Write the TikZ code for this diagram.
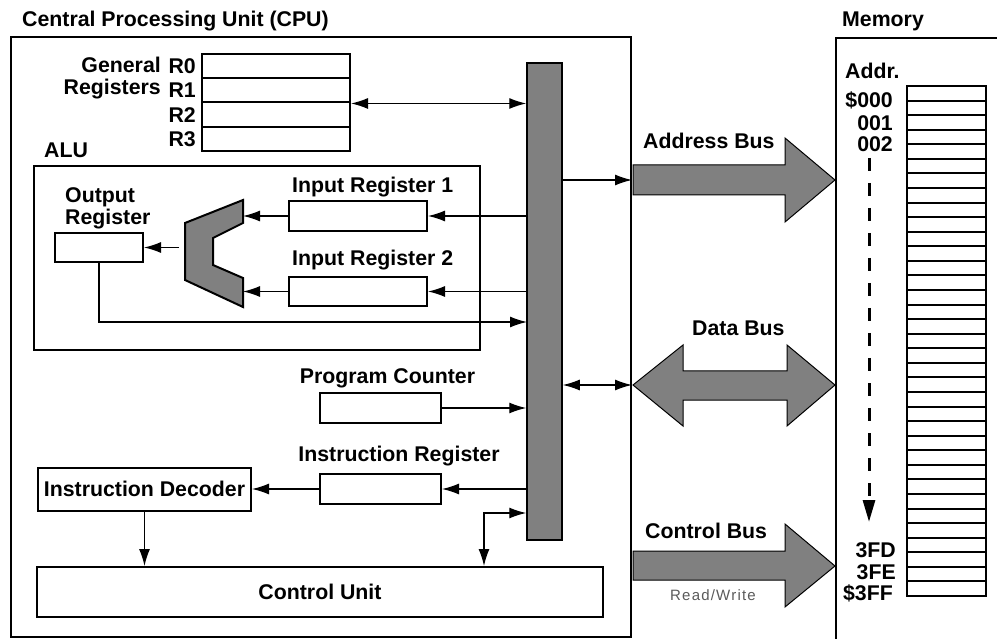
\documentclass[tikz,border=0pt]{standalone}
\usepackage{fontspec}
\setmainfont{Liberation Sans}
\newfontfamily\rwfont[LetterSpace=8]{Liberation Sans}
\usetikzlibrary{arrows.meta}
\definecolor{busgray}{RGB}{128,128,128}
\definecolor{rwgray}{RGB}{90,90,90}

\begin{document}
\begin{tikzpicture}[x=1pt, y=-1pt,
  regbox/.style={draw, line width=2pt, inner sep=0pt},
  cell/.style={draw, line width=2pt, minimum width=79pt, minimum height=14.571pt, inner sep=0pt},
  lbl/.style={font=\fontsize{21.3}{20}\selectfont\bfseries, inner sep=0pt},
  wire/.style={line width=1.3pt, -{Latex[length=17pt,width=11pt]}},
  wire2/.style={line width=1.3pt, {Latex[length=17pt,width=11pt]}-{Latex[length=17pt,width=11pt]}},
  bigarrow/.style={draw, fill=busgray, line width=1pt, line join=miter}]
\useasboundingbox (0,0) rectangle (997,639);

% CPU and memory frames
\node[regbox, line width=2.5pt, minimum width=620pt, minimum height=600pt] (cpu) at (321,337) {};
\node[lbl, anchor=base west] (cputitle) at (22,27) {Central Processing Unit (CPU)};
\draw[line width=2.5pt] (999,38) -| (836,641);
\node[lbl, anchor=base west] (memtitle) at (842,27) {Memory};

% internal bus
\node[draw, fill=busgray, line width=1.5pt, minimum width=35pt, minimum height=477pt, inner sep=0pt] (bus) at (544.5,301.5) {};

% general registers
\foreach \i in {0,...,3}{
  \node[regbox, minimum width=148pt, minimum height=24.25pt] (r\i) at (276,{66.1+24.25*\i}) {};
  \node[lbl, anchor=east] (rl\i) at ([xshift=-5pt]r\i.west) {R\i};
}
\node[lbl, anchor=base east] (gen1) at (161,73) {General};
\node[lbl, anchor=base east] (gen2) at (161,95) {Registers};
\draw[wire2] (r1.south east) -- (r1.south east -| bus.west);

% ALU
\node[lbl, anchor=base west] (alulbl) at (44,158) {ALU};
\node[regbox, minimum width=446pt, minimum height=184pt] (alu) at (257,258) {};
\node[lbl, anchor=base west] (out1) at (65,203) {Output};
\node[lbl, anchor=base west] (out2) at (65,225) {Register};
\node[regbox, minimum width=88pt, minimum height=29pt] (outreg) at (99,247.5) {};
\node[regbox, minimum width=138pt, minimum height=30pt] (in1) at (358,216) {};
\node[lbl, anchor=base west] (in1lbl) at (292,193) {Input Register 1};
\node[regbox, minimum width=138pt, minimum height=29pt] (in2) at (358,291.5) {};
\node[lbl, anchor=base west] (in2lbl) at (292,266) {Input Register 2};
\filldraw[fill=busgray, line width=2pt, line join=miter] (243,200) coordinate (alu1) -- (185,223) coordinate (alu2)
  -- (185,280) -- (243,307) -- (243,278) -- (213,265) -- (213,238) -- (243,223) -- cycle;
\draw[wire] (bus.west |- in1.east) -- (in1.east);
\draw[wire] (bus.west |- in2.east) -- (in2.east);
\draw[wire] (in1.west) -- (in1.west -| alu1);
\draw[wire] (in2.west) -- (in2.west -| alu1);
\draw[wire, shorten <=6pt] (outreg.east -| alu2) -- (outreg.east);
\coordinate (ret) at (527,322);
\draw[wire] (outreg.south) |- (ret);

% program counter, instruction register, decoder, control unit
\node[regbox, minimum width=121pt, minimum height=30pt] (pc) at (380.5,408) {};
\node[lbl, anchor=base] (pclbl) at (387.5,384) {Program Counter};
\node[regbox, minimum width=121pt, minimum height=30pt] (ir) at (380.5,489) {};
\node[lbl, anchor=base] (irlbl) at (399,461) {Instruction Register};
\node[regbox, lbl, line width=2pt, minimum width=213pt, minimum height=43pt] (dec) at (144.5,489) {Instruction Decoder};
\node[regbox, lbl, line width=2pt, minimum width=566pt, minimum height=50pt] (cu) at (320,592) {Control Unit};
\draw[wire] (pc.east) -- (pc.east -| bus.west);
\draw[wire] (ir.east -| bus.west) -- (ir.east);
\draw[wire] (ir.west) -- (ir.west -| dec.east);
\draw[wire] (dec.south) -- (dec.south |- cu.north);
\coordinate (cb) at (484,513);
\draw[wire2] (cu.north -| cb) |- (bus.west |- cb);

% system buses
\coordinate (abus) at (632,180);
\coordinate (dbus) at (632,385);
\draw[wire] (bus.east |- abus) -- (abus);
\draw[wire2] (bus.east |- dbus) -- (dbus);
\filldraw[bigarrow] (633,165) -- (785,165) -- (785,138) -- (835,180) -- (785,222) -- (785,195) -- (633,195) -- cycle;
\node[lbl, anchor=base west] (ablbl) at (643,149) {Address Bus};
\filldraw[bigarrow] (633,385) -- (683,345) -- (683,371) -- (787,371) -- (787,345) -- (835,385)
  -- (787,426) -- (787,400) -- (683,400) -- (683,426) -- cycle;
\node[lbl, anchor=base west] (dblbl) at (692,336) {Data Bus};
\filldraw[bigarrow] (633,551) -- (785,551) -- (785,524) -- (835,566) -- (785,607) -- (785,580) -- (633,580) -- cycle;
\node[lbl, anchor=base west] (cblbl) at (645,538) {Control Bus};
\node[font=\rwfont\fontsize{15}{16}\selectfont, text=rwgray, inner sep=0pt] (rw) at (713,595) {Read/Write};

% memory cells
\foreach \i in {0,...,34}
  \node[cell] (m\i) at (946.5,{86+14.571*(\i+0.5)}) {};
\node[lbl, anchor=base west] (addr) at (845,79) {Addr.};
\node[lbl, anchor=base east] (a0) at (893,108) {\$000};
\node[lbl, anchor=base east] (a1) at (893,131) {001};
\node[lbl, anchor=base east] (a2) at (893,152) {002};
\node[lbl, anchor=base east] (a3) at (896,557) {3FD};
\node[lbl, anchor=base east] (a4) at (896,579) {3FE};
\node[lbl, anchor=base east] (a5) at (893,600) {\$3FF};
\coordinate (dtop) at (869,158);
\coordinate (dbot) at (869,522);
\draw[line width=3pt, dash pattern=on 13pt off 12pt, -{Triangle[length=22pt,width=12pt]}] (dtop) -- (dbot);
\end{tikzpicture}
\end{document}
